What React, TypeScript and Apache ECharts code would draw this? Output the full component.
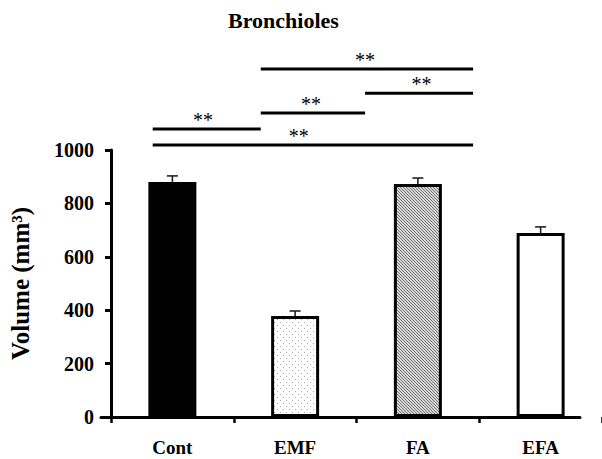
import React, { useEffect, useRef } from 'react';
import * as echarts from 'echarts';

const categories = ['Cont', 'EMF', 'FA', 'EFA'];
const means = [880, 378, 873, 689];
const errors = [23, 19, 22, 23];

// significance brackets (x in category-index units, y in data units)
const sigX1 = [-0.16, 0.72, 1.57, 0.72, -0.16];
const sigX2 = [0.72, 1.57, 2.45, 2.45, 2.45];
const sigY = [1079, 1139, 1213, 1303, 1019];
const sigLabelX = [0.25, 1.13, 2.03, 1.57, 1.03];
const sigLabels = ['**', '**', '**', '**', '**'];

const FONT = '"Liberation Serif", "Times New Roman", serif';

function makeDots(): HTMLCanvasElement {
  const c = document.createElement('canvas');
  c.width = 6;
  c.height = 6;
  const ctx = c.getContext('2d')!;
  ctx.fillStyle = '#ffffff';
  ctx.fillRect(0, 0, 6, 6);
  ctx.fillStyle = '#a8a8a8';
  ctx.fillRect(1, 1, 1, 1);
  ctx.fillRect(4, 4, 1, 1);
  return c;
}

function makeHatch(): HTMLCanvasElement {
  const c = document.createElement('canvas');
  c.width = 3;
  c.height = 3;
  const ctx = c.getContext('2d')!;
  ctx.fillStyle = '#d4d4d4';
  ctx.fillRect(0, 0, 3, 3);
  ctx.fillStyle = '#7a7a7a';
  for (let i = 0; i < 3; i++) ctx.fillRect(i, i, 1, 1);
  return c;
}

export default function App() {
  const ref = useRef<HTMLDivElement>(null);
  useEffect(() => {
    if (!ref.current) return;
    const chart = echarts.init(ref.current, null, { renderer: 'svg' });
    const dots = makeDots();
    const hatch = makeHatch();
    const fills: any[] = [
      '#000000',
      { image: dots, repeat: 'repeat' },
      { image: hatch, repeat: 'repeat' },
      '#ffffff',
    ];
    const option: any = {
      animation: false,
      backgroundColor: '#ffffff',
      title: {
        text: 'Bronchioles',
        left: 223,
        top: 4,
        textStyle: { fontFamily: FONT, fontWeight: 'bold', fontSize: 22, color: '#000' },
      },
      grid: [
        { left: 105, right: -2, top: 150, bottom: 42 },
        { left: 101, right: 22, top: 150, bottom: 42 },
      ],
      xAxis: [
        {
          type: 'category',
          gridIndex: 0,
          data: categories,
          axisLine: { show: false },
          axisTick: {
            show: true,
            length: 6,
            lineStyle: { color: '#000', width: 2.5 },
          },
          axisLabel: {
            margin: 21,
            color: '#000',
            fontFamily: FONT,
            fontWeight: 'bold',
            fontSize: 19,
          },
          splitLine: { show: false },
        },
        {
          type: 'value',
          gridIndex: 1,
          min: 0,
          max: 1,
          axisLine: { show: true, onZero: false, lineStyle: { color: '#000', width: 3 } },
          axisTick: { show: false },
          axisLabel: { show: false },
          splitLine: { show: false },
        },
        {
          type: 'value',
          gridIndex: 0,
          min: -0.5,
          max: 3.5,
          show: false,
        },
      ],
      yAxis: [
        {
          type: 'value',
          gridIndex: 0,
          min: 0,
          max: 1000,
          interval: 200,
          name: 'Volume (mm³)',
          nameLocation: 'middle',
          nameGap: 78,
          nameTextStyle: { fontFamily: FONT, fontWeight: 'bold', fontSize: 25, color: '#000' },
          axisLine: { show: true, onZero: false, lineStyle: { color: '#000', width: 3 } },
          axisTick: { show: true, length: 6, lineStyle: { color: '#000', width: 3 } },
          axisLabel: {
            margin: 17,
            color: '#000',
            fontFamily: FONT,
            fontWeight: 'bold',
            fontSize: 20,
            formatter: (v: number) => String(v),
          },
          splitLine: { show: false },
        },
        { type: 'value', gridIndex: 1, min: 0, max: 1, show: false },
      ],
      series: [
        {
          type: 'bar',
          xAxisIndex: 0,
          yAxisIndex: 0,
          barWidth: 48,
          data: means.map((v, i) => ({
            value: v,
            itemStyle: { color: fills[i], borderColor: '#000', borderWidth: 3 },
          })),
        },
        {
          type: 'custom',
          xAxisIndex: 0,
          yAxisIndex: 0,
          z: 1,
          data: means.map((v, i) => [i, v, errors[i]]),
          renderItem: (params: any, api: any) => {
            const x = api.value(0);
            const v = api.value(1);
            const e = api.value(2);
            const p0 = api.coord([x, v]);
            const p1 = api.coord([x, v + e]);
            const st = { stroke: '#222', lineWidth: 1.6 };
            return {
              type: 'group',
              children: [
                { type: 'line', shape: { x1: p0[0], y1: p0[1], x2: p1[0], y2: p1[1] }, style: st },
                { type: 'line', shape: { x1: p1[0] - 5.5, y1: p1[1], x2: p1[0] + 5.5, y2: p1[1] }, style: st },
              ],
            };
          },
        },
        {
          type: 'custom',
          xAxisIndex: 2,
          yAxisIndex: 0,
          clip: false,
          data: sigY.map((y, i) => [sigX1[i], sigX2[i], y, sigLabelX[i]]),
          renderItem: (params: any, api: any) => {
            const i = params.dataIndex;
            const a = api.coord([api.value(0), api.value(2)]);
            const b = api.coord([api.value(1), api.value(2)]);
            const t = api.coord([api.value(3), api.value(2)]);
            return {
              type: 'group',
              children: [
                {
                  type: 'line',
                  shape: { x1: a[0], y1: a[1], x2: b[0], y2: b[1] },
                  style: { stroke: '#000', lineWidth: 3 },
                },
                {
                  type: 'text',
                  x: t[0],
                  y: t[1] - 9,
                  style: {
                    text: sigLabels[i],
                    fill: '#000',
                    font: '20px "Liberation Serif", serif',
                    align: 'center',
                    verticalAlign: 'middle',
                  },
                },
              ],
            };
          },
        },
      ],
    };
    chart.setOption(option);
    return () => chart.dispose();
  }, []);
  return (
    <div
      ref={ref}
      style={{ position: 'absolute', left: 0, top: 0, width: 602, height: 459 }}
    />
  );
}
